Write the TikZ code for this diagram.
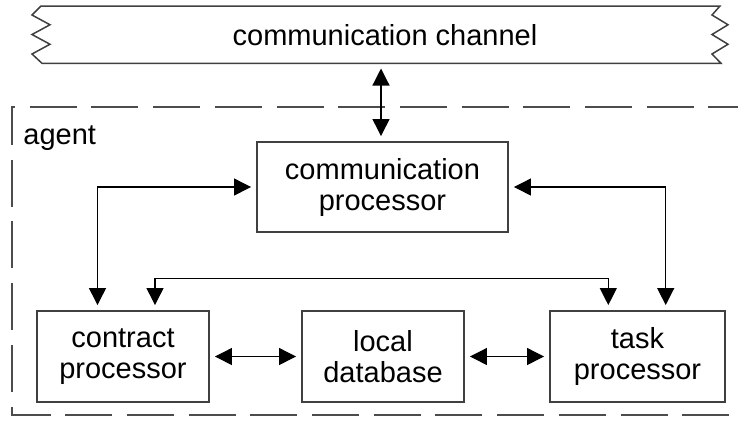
\documentclass[tikz,border=0pt]{standalone}
\usepackage{fontspec}
\setmainfont{Liberation Sans}
\usetikzlibrary{arrows.meta}
\begin{document}
\begin{tikzpicture}[x=0.5pt,y=-0.5pt,
  box/.style={draw=black!75, line width=0.75pt, align=center, inner sep=0pt,
    font=\fontsize{14.5}{15.5}\selectfont},
  conn/.style={draw=black, line width=0.6pt,
    {Triangle[length=8.5pt,width=8.5pt]}-{Triangle[length=8.5pt,width=8.5pt]},
    shorten <=2.6pt, shorten >=2.6pt},
  frameline/.style={draw=black!70, line width=0.75pt, dash pattern=on 23.5pt off 7.35pt},
  chanline/.style={draw=black!75, line width=0.75pt},
  lbl/.style={inner sep=0pt, font=\fontsize{14.5}{15.5}\selectfont}]
\useasboundingbox (0,0) rectangle (738,425);

% communication channel (tape shape)
\draw[chanline] (41,6) -- (720,6) -- (712,15) -- (728,24.75) -- (712,34.5) -- (728,44.25) -- (712,54) -- (721,63.3)
  -- (42,63.3) -- (32,54) -- (50,44.25) -- (32,34.5) -- (50,24.75) -- (32,15) -- cycle;
\node[lbl] (chan) at (385,35) {communication channel};
\coordinate (chanbot) at (381,63.3);

% agent frame
\draw[frameline, dash phase=3pt] (12,145) -- (12,107) -- (738,107);
\draw[frameline, dash phase=23.5pt] (12,145) -- (12,415) -- (738,415);
\node[lbl, anchor=base west] (agent) at (23,144) {agent};

% boxes
\node[box, minimum width=125.5pt, minimum height=45pt] (comm) at (382.5,187) {communication\\processor};
\node[box, minimum width=86pt, minimum height=45.5pt] (contract) at (123,356.5) {contract\\processor};
\node[box, minimum width=81pt, minimum height=45.5pt] (local) at (383,356.5) {local\\database};
\node[box, minimum width=87.5pt, minimum height=45.5pt] (task) at (637.5,356.5) {task\\processor};

% connectors
\draw[conn] (chanbot) -- (chanbot |- comm.north);
\draw[conn] (comm.west) -| ([xshift=-12.75pt]contract.north);
\draw[conn] (comm.east) -| ([xshift=14.1pt]task.north);
\coordinate (crossy) at (0,278.3);
\coordinate (cl) at ([xshift=16pt]contract.north);
\coordinate (cr) at ([xshift=-14.6pt]task.north);
\draw[conn] (cl) -- (cl |- crossy) -| (cr);
\draw[conn] (contract.east) -- (local.west);
\draw[conn] (local.east) -- (task.west);
\end{tikzpicture}
\end{document}
